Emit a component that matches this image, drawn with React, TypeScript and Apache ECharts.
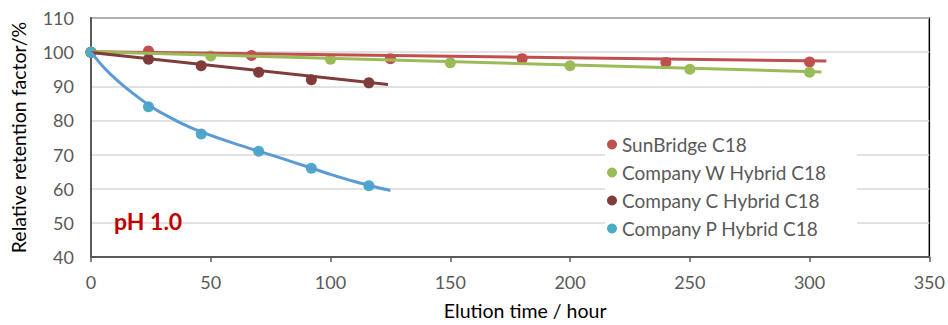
import React, { useEffect, useRef } from "react";
import * as echarts from "echarts";

const xTicks = { min: 0, max: 350, interval: 50 };
const yTicks = { min: 40, max: 110, interval: 10 };

const seriesNames = ["SunBridge C18", "Company W Hybrid C18", "Company C Hybrid C18", "Company P Hybrid C18"];
const markerColors = ["#C0504D", "#9BBB59", "#7F3C3A", "#4BACC6"];
const lineColors = ["#C0504D", "#9BBB59", "#7F3C3A", "#5B9BD5"];

const hoursSB = [0, 24, 67, 125, 180, 240, 300];
const valuesSB = [100, 100.3, 99.0, 98.1, 98.1, 97.0, 97.1];

const hoursW = [0, 50, 100, 150, 200, 250, 300];
const valuesW = [100, 98.9, 97.9, 96.9, 96.0, 95.0, 94.1];

const hoursC = [0, 24, 46, 70, 92, 116];
const valuesC = [100, 97.9, 96.0, 94.1, 91.9, 91.0];

const hoursP = [0, 24, 46, 70, 92, 116];
const valuesP = [100, 84.0, 76.0, 71.0, 66.0, 60.9];

// trendlines
const trendHoursSB = [0, 307];
const trendValuesSB = [100.1, 97.4];
const trendHoursW = [0, 305];
const trendValuesW = [100.1, 94.2];
const trendHoursC = [0, 124];
const trendValuesC = [99.9, 90.5];
const trendHoursP = [0, 5, 10, 15, 20, 25, 30, 40, 50, 60, 70, 80, 90, 100, 110, 120, 125];
const trendValuesP = [100, 95.8, 92.3, 89.3, 86.6, 84.1, 82.0, 78.4, 75.6, 73.2, 71.0, 68.8, 66.5, 64.2, 62.1, 60.3, 59.5];

const zip = (xs: number[], ys: number[]) => xs.map((x, i) => [x, ys[i]]);

const FONT = "Lato, 'Open Sans', sans-serif";

export default function App() {
  const ref = useRef<HTMLDivElement>(null);
  useEffect(() => {
    if (!ref.current) return;
    const chart = echarts.init(ref.current, undefined, { renderer: "svg" });
    const pts = [zip(hoursSB, valuesSB), zip(hoursW, valuesW), zip(hoursC, valuesC), zip(hoursP, valuesP)];
    const trends = [
      zip(trendHoursSB, trendValuesSB),
      zip(trendHoursW, trendValuesW),
      zip(trendHoursC, trendValuesC),
      zip(trendHoursP, trendValuesP),
    ];
    const series: any[] = [];
    trends.forEach((d, i) => {
      series.push({
        type: "line",
        name: "trend" + i,
        data: d,
        showSymbol: false,
        symbol: "none",
        smooth: i === 3 ? 0.3 : false,
        lineStyle: { color: lineColors[i], width: 3 },
        z: 3,
        silent: true,
      });
    });
    pts.forEach((d, i) => {
      series.push({
        type: "scatter",
        name: seriesNames[i],
        data: d,
        symbol: "circle",
        symbolSize: 11,
        itemStyle: { color: markerColors[i], opacity: 1 },
        z: 2 + i * 0.1,
      });
    });
    chart.setOption({
      animation: false,
      textStyle: { fontFamily: FONT },
      grid: {
        left: 91,
        right: 13,
        top: 18,
        bottom: 64,
        show: true,
        borderColor: "#000",
        borderWidth: 1.5,
        backgroundColor: "transparent",
      },
      xAxis: {
        type: "value",
        min: xTicks.min,
        max: xTicks.max,
        interval: xTicks.interval,
        name: "Elution time / hour",
        nameLocation: "middle",
        nameGap: 43,
        nameTextStyle: { color: "#000", fontSize: 19.5, fontFamily: FONT, padding: [0, 0, 0, 30] },
        axisLine: { show: true, lineStyle: { color: "#595959", width: 2 } },
        axisTick: { show: true, length: 5, lineStyle: { color: "#595959", width: 1.5 } },
        axisLabel: { color: "#595959", fontSize: 18, margin: 16, fontFamily: FONT },
        splitLine: { show: false },
      },
      yAxis: {
        type: "value",
        min: yTicks.min,
        max: yTicks.max,
        interval: yTicks.interval,
        name: "Relative retention factor/%",
        nameLocation: "middle",
        nameGap: 63,
        nameTextStyle: { color: "#000", fontSize: 19.5, fontFamily: FONT },
        axisLine: { show: true, lineStyle: { color: "#595959", width: 2 } },
        axisTick: { show: false },
        axisLabel: { color: "#595959", fontSize: 18, margin: 17, fontFamily: FONT },
        splitLine: { show: true, lineStyle: { color: "#D9D9D9", width: 1.5 } },
      },
      legend: {
        data: seriesNames,
        orient: "vertical",
        left: 605,
        top: 128,
        padding: [7, 30, 5, 2],
        backgroundColor: "#fff",
        itemGap: 9,
        itemWidth: 10,
        itemHeight: 10,
        icon: "circle",
        textStyle: { color: "#595959", fontSize: 19, lineHeight: 16, fontFamily: FONT },
        selectedMode: false,
      },
      graphic: [
        {
          type: "text",
          left: 114,
          top: 209,
          style: { text: "pH 1.0", fill: "#C00000", font: "bold 23px " + FONT },
          z: 10,
        },
      ],
      series,
    });
    return () => chart.dispose();
  }, []);
  return <div ref={ref} style={{ width: 948, height: 325, position: "absolute", left: 0, top: 0 }} />;
}
